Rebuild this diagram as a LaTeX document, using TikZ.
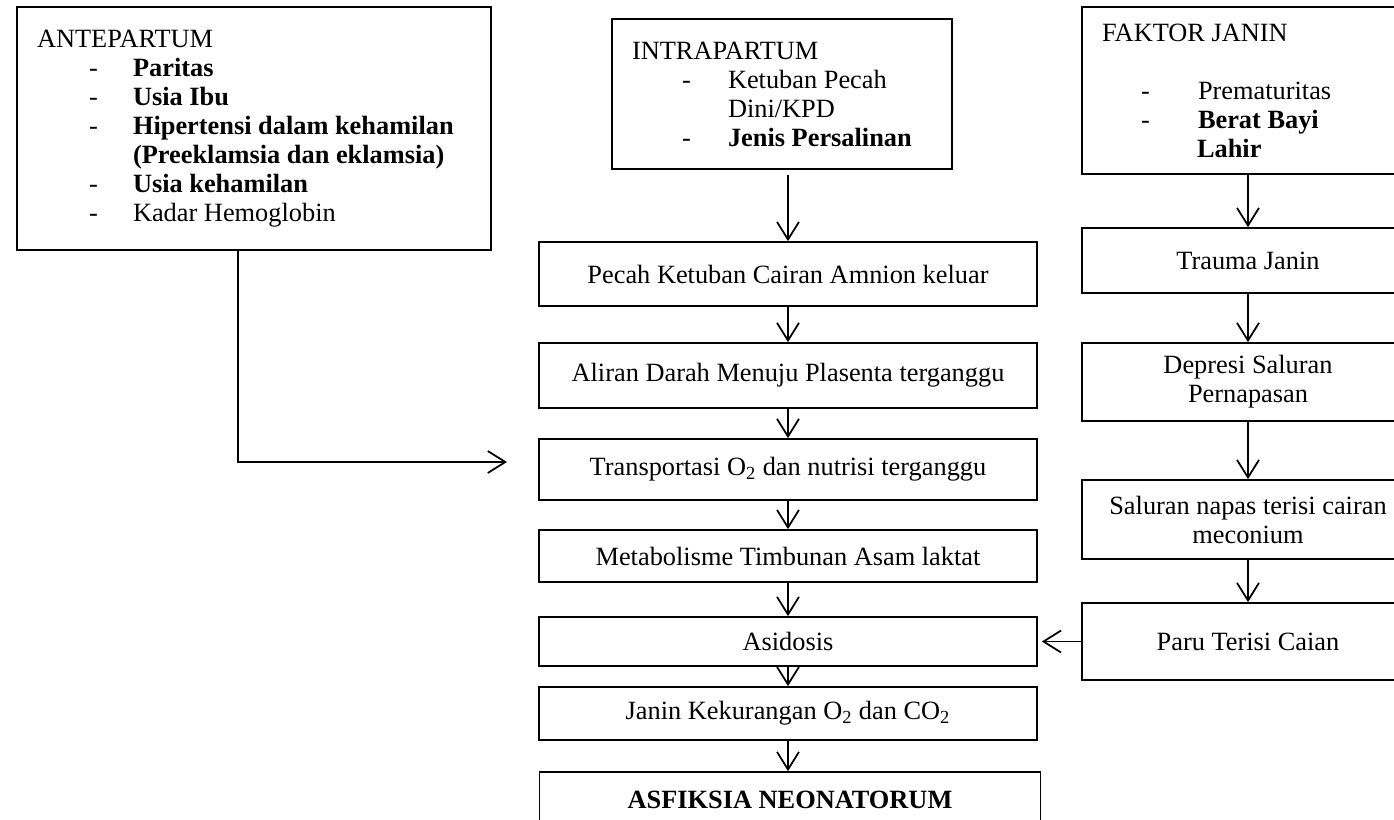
\documentclass[tikz,border=0pt]{standalone}
\usepackage{fontspec}
\setmainfont{Liberation Serif}
\usepackage{tikz}
\usetikzlibrary{arrows.meta}

\newcommand{\butir}[2][1.0cm]{\makebox[1.92cm][l]{\hspace{#1}-}#2}

\begin{document}
\begin{tikzpicture}[x=0.02cm,y=-0.02cm,
  kotak/.style={draw,line width=1pt,rectangle,inner sep=0pt,align=center,minimum width=9.96cm},
  daftar/.style={draw,line width=1pt,rectangle,inner ysep=0pt,inner xsep=0.4cm,align=flush left},
  kanan/.style={kotak,minimum width=6.64cm},
  panah/.style={line width=1pt,-{Straight Barb[length=10pt,width=12.5pt,line width=1pt]}},
  every node/.style={font=\fontsize{15pt}{16.5pt}\selectfont}]
\useasboundingbox (0,0) rectangle (1394,819);
\clip (0,0) rectangle (1394,819);

% faktor risiko
\node[daftar,text width=8.68cm,minimum height=4.86cm] (ante) at (254,128.5)
  {ANTEPARTUM\\ \butir[1.04cm]{\textbf{Paritas}}\\ \butir[1.04cm]{\textbf{Usia Ibu}}\\
   \butir[1.04cm]{\textbf{Hipertensi dalam kehamilan}}\\ \hspace*{1.92cm}\textbf{(Preeklamsia dan eklamsia)}\\
   \butir[1.04cm]{\textbf{Usia kehamilan}}\\ \butir[1.04cm]{Kadar Hemoglobin}};
\node[daftar,text width=6.0cm,minimum height=3.0cm] (intra) at (782,94)
  {INTRAPARTUM\\ \butir{Ketuban Pecah}\\ \hspace*{1.92cm}Dini/KPD\\ \butir{\textbf{Jenis Persalinan}}};
\node[daftar,text width=5.84cm,minimum height=3.34cm] (faktor) at (1248,90.5)
  {FAKTOR JANIN\\[16.5pt] \butir[0.78cm]{Prematuritas}\\ \butir[0.78cm]{\textbf{Berat Bayi}}\\ \hspace*{1.9cm}\textbf{Lahir}};

% jalur tengah
\node[kotak,minimum height=1.28cm] (pecah) at (788,274) {Pecah Ketuban Cairan Amnion keluar};
\node[kotak,minimum height=1.3cm] (aliran) at (788,375.5) {Aliran Darah Menuju Plasenta terganggu};
\node[kotak,minimum height=1.22cm] (trans) at (788,469.5) {Transportasi O\textsubscript{2} dan nutrisi terganggu};
\node[kotak,minimum height=1.04cm] (meta) at (788,556) {Metabolisme Timbunan Asam laktat};
\node[kotak,minimum height=0.98cm] (asid) at (788,641.5) {Asidosis};
\node[kotak,minimum height=1.06cm] (janin) at (788,713.5) {Janin Kekurangan O\textsubscript{2} dan CO\textsubscript{2}};
\node[kotak,minimum width=10.02cm,minimum height=1.12cm] (asfik) at (790,800) {\textbf{ASFIKSIA NEONATORUM}};

% jalur kanan
\node[kanan,minimum height=1.3cm] (trauma) at (1248,260.5) {Trauma Janin};
\node[kanan,minimum height=1.56cm] (depresi) at (1248,382) {Depresi Saluran\\ Pernapasan};
\node[kanan,minimum height=1.58cm] (saluran) at (1248,519.5) {Saluran napas terisi cairan\\ meconium};
\node[kanan,minimum height=1.54cm] (paru) at (1248,641.5) {Paru Terisi Caian};

\coordinate (masuk) at (507,462);

% panah
\draw[panah] ([xshift=-0.32cm]ante.south) |- (masuk);
\draw[panah] ([yshift=-0.1cm]intra.south -| pecah.north) -- (pecah.north);
\foreach \a/\b in {pecah/aliran,aliran/trans,trans/meta,meta/asid,asid/janin,janin/asfik,
                   faktor/trauma,trauma/depresi,depresi/saluran,saluran/paru}
  \draw[panah] (\a.south) -- (\a.south |- \b.north);
\draw[panah] (paru.west) -- ([xshift=0.08cm]asid.east |- paru.west);
\end{tikzpicture}
\end{document}
